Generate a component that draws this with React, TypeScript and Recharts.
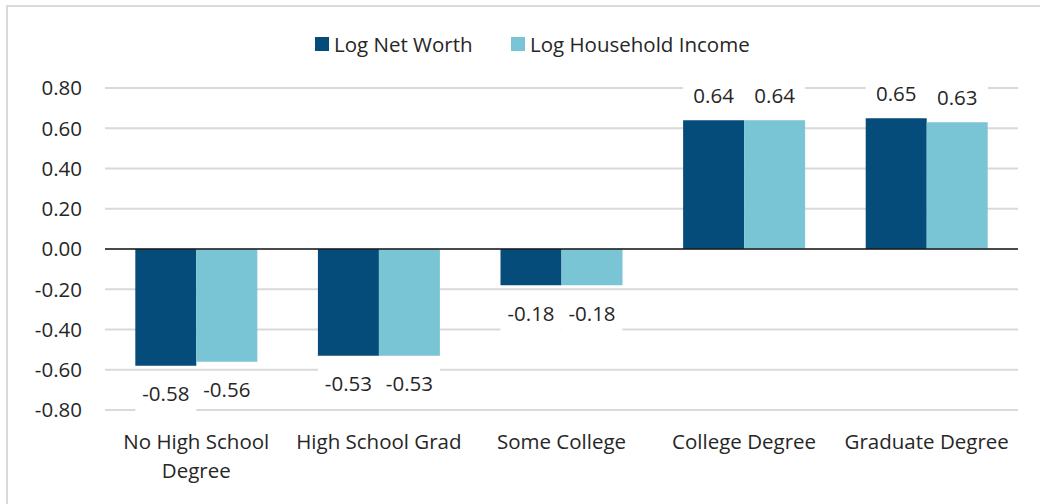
import { BarChart, Bar, XAxis, YAxis, CartesianGrid, Legend, LabelList, ReferenceLine } from 'recharts';

const CATEGORIES = ['No High School Degree', 'High School Grad', 'Some College', 'College Degree', 'Graduate Degree'];
const NET_WORTH = [-0.58, -0.53, -0.18, 0.64, 0.65];
const HOUSEHOLD_INCOME = [-0.56, -0.53, -0.18, 0.64, 0.63];
const Y_TICKS = [-0.8, -0.6, -0.4, -0.2, 0, 0.2, 0.4, 0.6, 0.8];

const FONT = "'Open Sans', 'Noto Sans', sans-serif";
const FONT_SIZE = 20.5;
const TEXT = '#262626';
const DARK = '#064c7b';
const LIGHT = '#79c5d5';
const GRID = '#d9d9d9';

const data = CATEGORIES.map((name, i) => ({
  name,
  netWorth: NET_WORTH[i],
  income: HOUSEHOLD_INCOME[i],
}));

const SERIES = [
  { key: 'netWorth', label: 'Log Net Worth', color: DARK },
  { key: 'income', label: 'Log Household Income', color: LIGHT },
];

// greedy word wrap measured with a canvas context
let ctx: CanvasRenderingContext2D | null = null;
function wrapWords(text: string, maxWidth: number): string[] {
  if (!ctx) ctx = document.createElement('canvas').getContext('2d');
  if (!ctx) return [text];
  ctx.font = `${FONT_SIZE}px ${FONT}`;
  const lines: string[] = [];
  let line = '';
  for (const word of text.split(' ')) {
    const next = line ? `${line} ${word}` : word;
    if (line && ctx.measureText(next).width > maxWidth) {
      lines.push(line);
      line = word;
    } else {
      line = next;
    }
  }
  if (line) lines.push(line);
  return lines;
}

// value label with a white box behind it, placed past the end of the bar
function ValueLabel(props: any) {
  const { x, y, width, height, value } = props;
  const v = Number(value);
  const top = Math.min(y, y + height);
  const bottom = Math.max(y, y + height);
  const cx = x + width / 2;
  const cy = v >= 0 ? top - 24.5 : bottom + 28;
  return (
    <g>
      <rect x={cx - 30.5} y={cy - 18} width={61} height={36} fill="#fff" />
      <text x={cx} y={cy} dy="0.36em" textAnchor="middle" fontSize={FONT_SIZE} fill={TEXT} fontFamily={FONT}>
        {v.toFixed(2)}
      </text>
    </g>
  );
}

function CategoryTick(props: any) {
  const { x, y, payload } = props;
  const lines = wrapWords(String(payload.value), 172);
  return (
    <text x={x} y={y + 39} textAnchor="middle" fill={TEXT} fontSize={FONT_SIZE} fontFamily={FONT}>
      {lines.map((l, i) => (
        <tspan key={i} x={x} dy={i === 0 ? 0 : 29}>
          {l}
        </tspan>
      ))}
    </text>
  );
}

function LegendContent() {
  return (
    <div
      style={{
        height: 20,
        width: 1040,
        boxSizing: 'border-box',
        paddingLeft: 315,
        display: 'flex',
        alignItems: 'center',
        fontFamily: FONT,
        fontSize: FONT_SIZE,
        color: TEXT,
      }}
    >
      {SERIES.map((s, i) => (
        <div key={s.key} style={{ display: 'flex', alignItems: 'center', width: i === 0 ? 196 : 'auto' }}>
          <span style={{ width: 14, height: 14, background: s.color, marginRight: 5, display: 'inline-block' }} />
          <span style={{ lineHeight: '20px', whiteSpace: 'nowrap' }}>{s.label}</span>
        </div>
      ))}
    </div>
  );
}

export default function App() {
  return (
    <div style={{ position: 'absolute', left: 0, top: 0, width: 1040, height: 504, overflow: 'hidden', background: '#fff', fontFamily: FONT }}>
      <div
        style={{
          position: 'absolute',
          left: 6,
          top: 5,
          width: 1060,
          height: 520,
          border: `2px solid ${GRID}`,
          boxSizing: 'border-box',
        }}
      />
      <div style={{ position: 'absolute', left: 0, top: 0 }}>
        <BarChart
          width={1040}
          height={504}
          data={data}
          margin={{ top: 68, right: 22, bottom: 0, left: 0 }}
          barCategoryGap="16.6%"
          barGap={0}
        >
          <CartesianGrid vertical={false} stroke={GRID} strokeWidth={2} />
          <XAxis
            dataKey="name"
            axisLine={false}
            tickLine={false}
            tickSize={0}
            tickMargin={0}
            height={94}
            interval={0}
            tick={<CategoryTick />}
          />
          <YAxis
            type="number"
            domain={[-0.8, 0.8]}
            ticks={Y_TICKS}
            width={105}
            axisLine={false}
            tickLine={false}
            tickSize={0}
            tickMargin={23}
            tickFormatter={(v: number) => v.toFixed(2)}
            tick={{ fontSize: FONT_SIZE, fill: TEXT, fontFamily: FONT }}
          />
          <ReferenceLine y={0} stroke="#1a1a1a" strokeWidth={1.5} />
          <Legend
            verticalAlign="top"
            align="center"
            content={<LegendContent />}
            wrapperStyle={{ top: 34, left: 0, width: 1040 }}
          />
          {SERIES.map((s) => (
            <Bar key={s.key} dataKey={s.key} name={s.label} fill={s.color} isAnimationActive={false}>
              <LabelList dataKey={s.key} content={<ValueLabel />} />
            </Bar>
          ))}
        </BarChart>
      </div>
    </div>
  );
}
